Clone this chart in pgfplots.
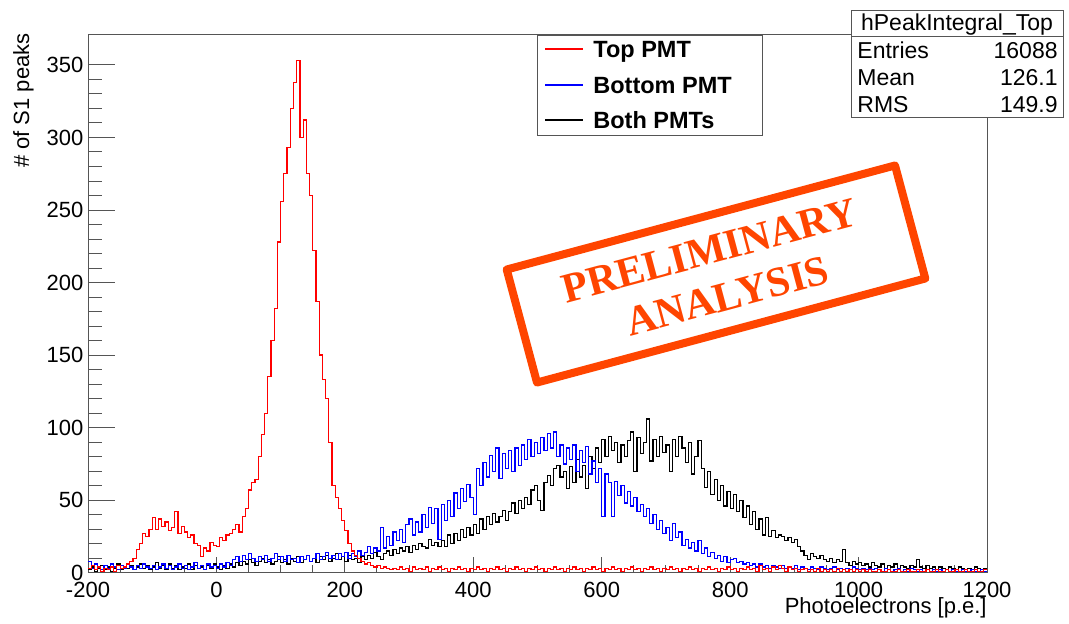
\documentclass[border=0pt]{standalone}
\usepackage{pgfplots}
\pgfplotsset{compat=1.18}
\usepackage{pgfplotstable}
\usepackage{fontspec}
\setmainfont{Liberation Sans}
\newfontfamily\stampfont{Liberation Serif}
\definecolor{stamp}{RGB}{255,69,0}
\definecolor{framegray}{RGB}{85,85,85}

% S1 peak integrals, 5 p.e. bins (low edge), last row closes the final bin
\pgfplotstableread{
x top bottom both
-200 3 8 2
-195 5 3 4
-190 2 6 1
-185 4 4 3
-180 1 2 5
-175 3 5 2
-170 2 3 4
-165 4 6 1
-160 1 4 3
-155 5 2 6
-150 3 5 2
-145 4 3 4
-140 6 6 3
-135 8 4 5
-130 10 2 2
-125 16 5 4
-120 20 3 6
-115 27 6 3
-110 25 4 5
-105 30 3 2
-100 38 5 4
-95 30 2 7
-90 37 4 3
-85 32 6 5
-80 35 3 2
-75 29 5 6
-70 31 2 3
-65 42 4 5
-60 27 6 2
-55 32 3 4
-50 28 5 3
-45 24 2 6
-40 26 4 2
-35 20 7 5
-30 19 3 3
-25 11 5 4
-20 17 2 2
-15 15 6 5
-10 21 4 3
-5 19 5 6
0 18 3 4
5 24 6 2
10 22 4 5
15 26 7 3
20 27 5 6
25 30 9 4
30 33 11 7
35 28 8 5
40 39 12 8
45 44 9 6
50 57 13 9
55 62 10 7
60 64 8 5
65 80 11 8
70 95 9 10
75 110 12 7
80 135 8 9
85 160 10 6
90 182 13 8
95 228 9 11
100 256 11 7
105 275 8 9
110 293 12 6
115 320 9 10
120 338 10 8
125 353 7 11
130 300 11 7
135 312 9 9
140 275 12 12
145 260 8 8
150 222 10 10
155 187 13 7
160 150 9 11
165 133 11 9
170 120 14 12
175 90 10 8
180 60 12 10
185 52 9 13
190 44 13 9
195 36 11 11
200 29 14 8
205 20 10 12
210 15 13 9
215 12 11 10
220 10 15 7
225 8 12 11
230 6 14 9
235 7 18 12
240 5 13 10
245 4 17 14
250 5 15 11
255 3 31 9
260 4 17 13
265 3 25 15
270 2 19 12
275 3 28 16
280 2 22 13
285 4 30 17
290 2 21 15
295 3 33 18
300 1 37 14
305 4 26 19
310 2 35 16
315 3 28 20
320 2 40 18
325 4 31 17
330 1 45 23
335 3 34 19
340 2 44 21
345 4 23 18
350 2 47 22
355 3 36 18
360 1 50 26
365 3 39 20
370 2 55 27
375 4 44 22
380 2 58 30
385 3 49 24
390 1 61 31
395 3 52 26
400 2 40 33
405 4 72 27
410 2 60 37
415 3 76 30
420 1 66 39
425 3 81 33
430 2 70 41
435 4 86 35
440 2 65 39
445 3 82 43
450 1 72 36
455 3 84 42
460 2 70 48
465 4 86 41
470 2 74 50
475 3 88 44
480 1 78 52
485 3 92 47
490 2 80 57
495 4 90 60
500 2 82 50
505 3 93 43
510 1 84 62
515 3 96 67
520 2 86 60
525 4 97 72
530 2 80 74
535 3 88 66
540 1 75 70
545 3 86 58
550 2 78 73
555 4 88 62
560 2 70 78
565 3 84 66
570 1 76 74
575 3 87 58
580 2 68 80
585 4 77 72
590 2 62 86
595 3 72 76
600 1 39 92
605 3 68 80
610 2 62 94
615 4 39 84
620 2 63 90
625 3 53 76
630 1 60 88
635 3 48 80
640 2 56 91
645 4 46 97
650 2 52 70
655 3 42 93
660 1 47 82
665 3 39 90
670 2 44 106
675 4 34 77
680 2 40 92
685 3 30 80
690 1 36 94
695 3 27 83
700 2 31 88
705 4 22 70
710 2 34 92
715 3 24 80
720 1 28 94
725 3 19 86
730 2 23 76
735 4 17 90
740 2 21 68
745 3 15 80
750 1 22 91
755 3 13 72
760 2 17 59
765 4 11 70
770 2 14 54
775 3 10 64
780 1 12 50
785 3 8 60
790 2 11 46
795 4 7 56
800 2 9 44
805 3 10 54
810 1 7 42
815 3 8 50
820 2 6 38
825 4 7 46
830 2 5 33
835 3 6 42
840 1 4 30
845 5 6 37
850 2 4 26
855 3 5 38
860 1 3 25
865 4 5 29
870 2 4 24
875 5 3 26
880 3 5 25
885 1 3 22
890 4 4 24
895 2 3 21
900 3 5 23
905 1 2 18
910 2 4 15
915 3 3 12
920 1 2 9
925 2 4 13
930 1 3 11
935 3 2 10
940 1 4 12
945 2 3 9
950 1 2 8
955 2 3 10
960 1 4 7
965 3 2 9
970 1 3 8
975 2 2 16
980 1 3 7
985 2 2 5
990 1 4 8
995 2 3 6
1000 1 2 7
1005 2 3 5
1010 1 2 6
1015 2 3 4
1020 1 2 7
1025 1 3 5
1030 2 2 4
1035 1 1 6
1040 1 3 3
1045 2 2 5
1050 1 1 4
1055 1 2 6
1060 2 3 3
1065 1 1 5
1070 1 2 4
1075 2 1 3
1080 1 3 5
1085 1 2 4
1090 2 1 9
1095 1 2 4
1100 1 1 3
1105 2 2 5
1110 1 1 3
1115 1 2 4
1120 2 1 2
1125 1 2 4
1130 1 1 3
1135 2 2 2
1140 1 1 4
1145 1 2 3
1150 2 1 2
1155 1 1 4
1160 1 2 3
1165 2 1 2
1170 1 1 3
1175 1 2 2
1180 2 1 4
1185 1 1 3
1190 1 2 2
1195 2 1 3
1200 2 1 3
}\histdata

\begin{document}
\begin{tikzpicture}
\path[use as bounding box] (0,0) rectangle (534.5pt,311.5pt);
\begin{axis}[
  at={(44pt,25.15pt)}, anchor=south west,
  scale only axis, width=449.5pt, height=268.85pt,
  xmin=-200, xmax=1200, ymin=0, ymax=370.65,
  xtick={-200,0,...,1200}, ytick={0,50,...,350},
  minor x tick num=3, minor y tick num=4,
  xtick pos=left, ytick pos=left, tick align=inside,
  xtick style={/pgfplots/major tick length=8pt,/pgfplots/minor tick length=4pt,line width=0.5pt,color=framegray},
  ytick style={/pgfplots/major tick length=13.5pt,/pgfplots/minor tick length=7pt,line width=0.5pt,color=framegray},
  axis line style={line width=0.5pt,color=framegray},
  ticklabel style={font=\fontsize{11}{13}\selectfont},
  /pgf/number format/assume math mode=true,
  /pgf/number format/1000 sep={},
  xticklabel style={yshift=-1.3pt},
  yticklabel style={xshift=1.2pt},
]
\addplot[const plot mark left, black, line width=0.6pt] table[x=x,y=both]{\histdata};
\addplot[const plot mark left, blue, line width=0.6pt] table[x=x,y=bottom]{\histdata};
\addplot[const plot mark left, red, line width=0.6pt] table[x=x,y=top]{\histdata};
\end{axis}

% axis titles
\node[rotate=90, anchor=base east, inner sep=0pt, font=\fontsize{11}{13}\selectfont] at (14.5pt,295pt) {\# of S1 peaks};
\node[anchor=base east, inner sep=0pt, font=\fontsize{11}{13}\selectfont] at (493.5pt,5pt) {Photoelectrons [p.e.]};

% legend
\draw[framegray, line width=0.5pt, fill=white] (268.5pt,294pt) rectangle (381pt,244pt);
\draw[red, line width=0.6pt] (272.5pt,287pt) -- (291.5pt,287pt);
\draw[blue, line width=0.6pt] (272.5pt,269pt) -- (291.5pt,269pt);
\draw[black, line width=0.6pt] (272.5pt,251.5pt) -- (291.5pt,251.5pt);
\begin{scope}[every node/.style={anchor=base west, inner sep=0pt, font=\fontsize{11.75}{14}\selectfont\bfseries}]
\node at (296.5pt,282.75pt) {Top PMT};
\node at (296.5pt,264.75pt) {Bottom PMT};
\node at (296.5pt,247.25pt) {Both PMTs};
\end{scope}

% statistics box
\draw[framegray, line width=0.5pt, fill=white] (425.5pt,306pt) rectangle (531.5pt,253pt);
\draw[framegray, line width=0.5pt] (425.5pt,293.5pt) -- (531.5pt,293.5pt);
\begin{scope}[every node/.style={inner sep=0pt, font=\fontsize{11.5}{14}\selectfont}]
\node[anchor=base] at (478.5pt,296pt) {hPeakIntegral\_Top};
\node[anchor=base west] at (428.5pt,282.5pt) {Entries};
\node[anchor=base east] at (529pt,282.5pt) {16088};
\node[anchor=base west] at (428.5pt,269pt) {Mean};
\node[anchor=base east] at (529pt,269pt) {126.1};
\node[anchor=base west] at (428.5pt,255.5pt) {RMS};
\node[anchor=base east] at (529pt,255.5pt) {149.9};
\end{scope}

% stamp
\begin{scope}[shift={(358pt,174.5pt)}, rotate=15]
\draw[stamp, line width=4pt, line join=round] (-100.5pt,-29.25pt) rectangle (100.5pt,29.25pt);
\node[stamp, rotate=15, inner sep=0pt, font=\stampfont\bfseries\fontsize{21}{24}\selectfont] at (0pt,12.25pt) {PRELIMINARY};
\node[stamp, rotate=15, inner sep=0pt, font=\stampfont\bfseries\fontsize{21}{24}\selectfont] at (2.5pt,-12.25pt) {ANALYSIS};
\end{scope}
\end{tikzpicture}
\end{document}
